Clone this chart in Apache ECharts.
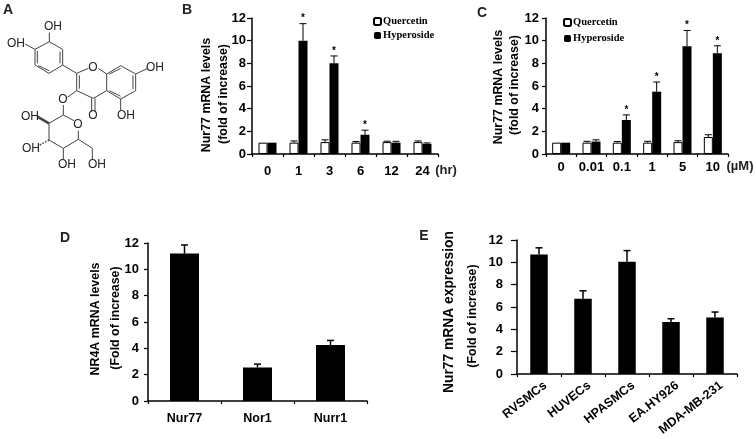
<!DOCTYPE html>
<html>
<head>
<meta charset="utf-8">
<style>html,body{margin:0;padding:0;background:#fff}#main{width:756px;height:439px}</style>
<script src="https://cdn.jsdelivr.net/npm/echarts@6/dist/echarts.min.js"></script>
</head>
<body>
<div id="main"></div>
<script>
// panel B
const bCats = ['0', '1', '3', '6', '12', '24']
const bQuercetin = [1, 1, 1.05, 1, 1.05, 1.05]
const bQuercetinErr = [0, 0.15, 0.2, 0.1, 0.08, 0.1]
const bHyperoside = [1, 10, 8, 1.7, 1, 0.9]
const bHyperosideErr = [0, 1.5, 0.65, 0.4, 0.12, 0.08]
const bStars = [0, 1, 1, 1, 0, 0]
// panel C
const cCats = ['0', '0.01', '0.1', '1', '5', '10']
const cQuercetin = [1, 1, 1, 1, 1.05, 1.5]
const cQuercetinErr = [0, 0.12, 0.1, 0.12, 0.12, 0.2]
const cHyperoside = [1, 1.1, 3, 5.5, 9.5, 8.9]
const cHyperosideErr = [0, 0.15, 0.45, 0.85, 1.4, 0.65]
const cStars = [0, 0, 1, 1, 1, 1]
// panel D
const dCats = ['Nur77', 'Nor1', 'Nurr1']
const dValues = [11.2, 2.55, 4.25]
const dErr = [0.65, 0.25, 0.35]
// panel E
const eCats = ['RVSMCs', 'HUVECs', 'HPASMCs', 'EA.HY926', 'MDA-MB-231']
const eValues = [10.7, 6.75, 10.05, 4.65, 5.05]
const eErr = [0.6, 0.7, 1.0, 0.3, 0.5]

const sans = '"Liberation Sans", Arial, sans-serif'
const serif = '"Liberation Serif", "Times New Roman", serif'

function makeX(idx, cats, margin, rotate, size, pad) {
    return {
        type: 'category', gridIndex: idx, data: cats,
        axisLine: { lineStyle: { color: '#000', width: 1.5 } },
        axisTick: { show: true, length: 3, lineStyle: { color: '#000', width: 1.2 } },
        axisLabel: { color: '#000', fontFamily: sans, fontWeight: 'bold', fontSize: size || 13, margin: margin, rotate: rotate || 0, interval: 0, padding: pad || 0 }
    }
}

function makeY(idx, margin, tick) {
    return {
        type: 'value', gridIndex: idx, min: 0, max: 12, interval: 2,
        splitLine: { show: false },
        axisLine: { show: true, lineStyle: { color: '#000', width: 1.5 } },
        axisTick: { show: true, length: tick, lineStyle: { color: '#000', width: 1.2 } },
        axisLabel: { color: '#000', fontFamily: sans, fontWeight: 'bold', fontSize: 13, margin: margin }
    }
}

function makeBar(idx, name, values, width, white) {
    return {
        type: 'bar', name: name, xAxisIndex: idx, yAxisIndex: idx, data: values,
        barWidth: width, barGap: 0,
        itemStyle: white ? { color: '#fff', borderColor: '#000', borderWidth: 1 } : { color: '#000' },
        z: 3
    }
}

// 误差线 + 星号
function makeErr(idx, values, errs, offset, stars, lw) {
    return {
        type: 'custom', xAxisIndex: idx, yAxisIndex: idx, z: 2, silent: true,
        data: values.map((v, i) => [i, v, v + errs[i], stars ? stars[i] : 0]),
        renderItem(params, api) {
            const base = api.coord([api.value(0), api.value(1)])
            const top = api.coord([api.value(0), api.value(2)])
            const x = base[0] + offset
            const kids = []
            if (api.value(2) > api.value(1)) {
                kids.push({ type: 'line', shape: { x1: x, y1: base[1], x2: x, y2: top[1] }, style: { stroke: '#000', lineWidth: lw } })
                kids.push({ type: 'line', shape: { x1: x - 3.5, y1: top[1], x2: x + 3.5, y2: top[1] }, style: { stroke: '#000', lineWidth: lw } })
            }
            if (api.value(3)) {
                kids.push({ type: 'text', x: x, y: top[1] - 5, style: { text: '*', font: 'bold 10px ' + sans, fill: '#000', align: 'center', verticalAlign: 'middle' } })
            }
            return { type: 'group', children: kids }
        }
    }
}

function legendAt(left, top, gap) {
    return {
        left: left, top: top, orient: 'vertical', itemWidth: 7, itemHeight: 7, itemGap: gap, padding: 0,
        selectedMode: false, data: ['Quercetin', 'Hyperoside'],
        textStyle: { color: '#000', fontFamily: serif, fontWeight: 'bold', fontSize: 10.5, padding: [0, 0, 0, -3] }
    }
}

// 结构式 A
const t = (text, x, y, font) => ({ type: 'text', x: x, y: y, style: { text: text, font: font || '12px ' + sans, fill: '#222', align: 'center', verticalAlign: 'middle' } })
const seg = (p, w) => ({ type: 'polyline', shape: { points: p.map(q => [q[0] / 3, q[1] / 3]) }, style: { stroke: '#444', lineWidth: w || 1, fill: null } })
const bold = (text, x, y) => t(text, x, y, 'bold 14px ' + sans)
const vert = (text, x, y, size) => ({ type: 'text', x: x, y: y, rotation: Math.PI / 2, style: { text: text, font: 'bold ' + size + 'px ' + sans, fill: '#000', align: 'center', verticalAlign: 'middle' } })

const molecule = [
    seg([[148, 125], [188, 148], [188, 195], [147, 220], [105, 195], [105, 148], [148, 125]]),
    seg([[180, 155], [180, 190]]), seg([[112, 153], [112, 190]]), seg([[115, 197], [147, 212]]),
    seg([[148, 125], [148, 98]]), seg([[105, 148], [75, 132]]),
    seg([[188, 195], [230, 220], [265, 205]]), seg([[295, 205], [320, 222], [320, 272], [280, 295], [230, 272], [230, 220]]),
    seg([[238, 226], [238, 266]]),
    seg([[320, 222], [362, 197], [407, 222], [407, 272], [362, 297], [320, 272]]),
    seg([[328, 222], [362, 205]]), seg([[399, 226], [399, 268]]), seg([[328, 272], [362, 289]]),
    seg([[407, 222], [443, 205]]), seg([[362, 297], [362, 330]]),
    seg([[275, 295], [275, 335]]), seg([[285, 295], [285, 335]]),
    seg([[230, 272], [202, 292]]), seg([[190, 315], [190, 345], [222, 362]]),
    seg([[235, 392], [235, 418], [190, 445], [147, 420], [147, 370], [190, 345]]),
    seg([[147, 370], [112, 350]], 2.4),
    { type: 'polyline', shape: { points: [[49, 140], [38, 146]] }, style: { stroke: '#444', lineWidth: 1.6, lineDash: [1.5, 1.5], fill: null } },
    seg([[190, 445], [190, 478]]), seg([[235, 418], [277, 445], [277, 478]]),
    t('OH', 53, 27), t('OH', 16, 44), t('O', 93, 68), t('OH', 155, 68), t('OH', 126, 116), t('O', 93, 116),
    t('O', 63, 100), t('O', 78, 125), t('OH', 30, 117), t('OH', 31, 149), t('OH', 67, 165), t('OH', 97, 165)
]

const labels = [
    bold('A', 8, 10), bold('B', 187, 10), bold('C', 482, 13), bold('D', 65, 238), bold('E', 424, 236),
    t('(hr)', 446, 170, 'bold 13px ' + sans), t('(µM)', 740, 166, 'bold 13px ' + sans),
    vert('Nur77 mRNA levels', 207, 95, 12.4), vert('(fold of increase)', 224, 94, 12.4),
    vert('Nur77 mRNA levels', 499, 87, 12.4), vert('(fold of increase)', 515, 85, 12.4),
    vert('NR4A mRNA levels', 96, 319, 12.4), vert('(Fold of increase)', 116, 318, 12.4),
    vert('Nur77 mRNA expression', 449, 312, 13.8), vert('(Fold of increase)', 473, 316, 12.4)
]

const option = {
    backgroundColor: '#fff',
    animation: false,
    legend: [legendAt(373, 16, 3), legendAt(563, 17, 5)],
    grid: [
        { left: 252, top: 18, width: 186, height: 136 },
        { left: 546, top: 18, width: 182, height: 136 },
        { left: 148, top: 243, width: 219, height: 158 },
        { left: 517, top: 240, width: 220, height: 134 }
    ],
    xAxis: [makeX(0, bCats, 11), makeX(1, cCats, 7), makeX(2, dCats, 11, 0, 12.5), makeX(3, eCats, 15, 38, 12.5, [0, -8, 0, 0])],
    yAxis: [makeY(0, 6, 5), makeY(1, 7, 4), makeY(2, 9, 4), makeY(3, 14, 6)],
    series: [
        makeBar(0, 'Quercetin', bQuercetin, 9, true),
        makeBar(0, 'Hyperoside', bHyperoside, 9, false),
        makeErr(0, bQuercetin, bQuercetinErr, -4.5, null, 1),
        makeErr(0, bHyperoside, bHyperosideErr, 4.5, bStars, 1),
        makeBar(1, 'Quercetin', cQuercetin, 9, true),
        makeBar(1, 'Hyperoside', cHyperoside, 9, false),
        makeErr(1, cQuercetin, cQuercetinErr, -4.5, null, 1),
        makeErr(1, cHyperoside, cHyperosideErr, 4.5, cStars, 1),
        makeBar(2, 'NR4A', dValues, 29, false),
        makeErr(2, dValues, dErr, 0, null, 1.5),
        makeBar(3, 'Nur77', eValues, 17.5, false),
        makeErr(3, eValues, eErr, 0, null, 1.5)
    ],
    graphic: { elements: molecule.concat(labels) }
}

const chart = echarts.init(document.getElementById('main'), null, { renderer: 'canvas' })
chart.setOption(option)
</script>
</body>
</html>
